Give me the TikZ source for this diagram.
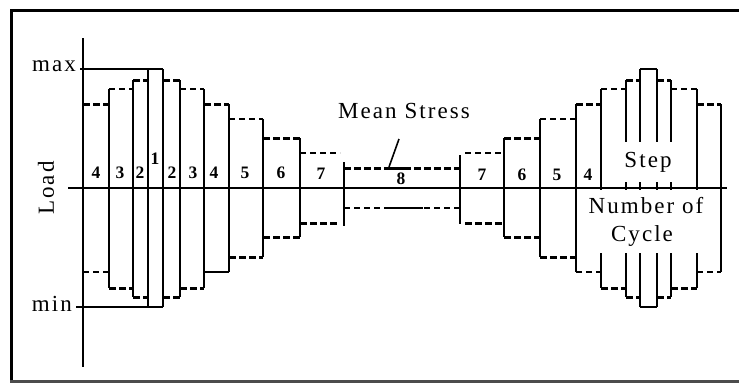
\documentclass[tikz,border=0pt]{standalone}
\usepackage{fontspec}
\setmainfont{Liberation Serif}
\begin{document}
\begin{tikzpicture}[x=1pt,y=-1pt,
  solidln/.style={line width=1.6pt},
  axisln/.style={line width=1.8pt},
  thickdash/.style={line width=3pt, dash pattern=on 7pt off 3pt},
  thindash/.style={line width=1.4pt, dash pattern=on 6pt off 4pt},
  lbl/.style={font=\fontsize{23}{25}\selectfont\addfontfeatures{LetterSpace=9}, inner sep=0pt},
  num/.style={font=\fontsize{17.5}{19}\selectfont\bfseries, inner sep=0pt}]
\useasboundingbox (0,0) rectangle (739,383);

% frame
\fill[black] (10,8.5) rectangle (739,11.5);
\fill[black] (10,8.5) rectangle (13,383);
\fill[black!70] (10,380) rectangle (739,383);

% axes
\draw[axisln] (83,38) -- (83,367);
\draw[axisln] (68,188) -- (727,188);

% max / min levels
\draw[solidln] (80,69) -- (163,69);
\draw[solidln] (76,307) -- (163,307);
\node[lbl, anchor=east] (max) at (76,66) {max};
\node[lbl, anchor=east] (min) at (72,304) {min};
\node[lbl, rotate=90] (load) at (46,188) {Load};

% upper and lower edges of each step
\foreach \xa/\xb/\t/\b/\ts/\bs in {
  83/109/104/272/thickdash/thindash,
  109/133/89/288/thindash/thickdash,
  133/148/80/297/thickdash/thickdash,
  163/180/80/297/thickdash/thickdash,
  180/204/89/288/thindash/thickdash,
  204/229/104/272/thickdash/solidln,
  229/263/119/257/thindash/thickdash,
  263/300/138/237/thickdash/thickdash,
  300/340/153/223/thindash/thickdash,
  344/460/168/208/thickdash/thindash,
  465/504/153/223/thindash/thickdash,
  504/540/138/237/thickdash/thickdash,
  540/576/119/257/thindash/thickdash,
  576/601/104/272/thickdash/thindash,
  601/626/89/288/thindash/thickdash,
  626/640/80/297/thickdash/thickdash,
  640/657/69/307/solidln/solidln,
  657/671/80/297/thickdash/thickdash,
  671/697/89/288/thindash/thickdash,
  697/721/104/272/thickdash/thindash}
{
  \draw[\ts] (\xa,\t) -- (\xb,\t);
  \draw[\bs] (\xa,\b) -- (\xb,\b);
}
\draw[line width=3pt] (388,168) -- (410,168);
\draw[solidln] (387,208) -- (423,208);

% step boundaries
\foreach \x/\t/\b in {109/89/288, 133/80/297, 148/69/307, 163/69/307,
  180/80/297, 204/89/288, 229/104/272, 263/119/257, 300/138/237,
  344/162/226, 460/155/224, 504/138/237, 540/119/257, 576/104/272, 721/104/272}
  \draw[solidln] (\x,\t) -- (\x,\b);
\foreach \x/\t/\b in {601/89/288, 697/89/288}
{
  \draw[solidln] (\x,\t) -- (\x,190);
  \draw[solidln] (\x,253) -- (\x,\b);
}
\foreach \x/\t/\b in {626/80/297, 640/69/307, 657/69/307, 671/80/297}
{
  \draw[solidln] (\x,\t) -- (\x,142);
  \draw[solidln] (\x,182) -- (\x,190);
  \draw[solidln] (\x,253) -- (\x,\b);
}

% step numbers
\node[num] (sa) at (96,173) {4};
\node[num] (sb) at (120,173) {3};
\node[num] (sc) at (140,173) {2};
\node[num] (sd) at (155,159) {1};
\node[num] (se) at (172,173) {2};
\node[num] (sf) at (193,173) {3};
\node[num] (sg) at (214,173) {4};
\node[num] (sh) at (245,173) {5};
\node[num] (si) at (281,173) {6};
\node[num] (sj) at (321,174) {7};
\node[num] (sk) at (401,179) {8};
\node[num] (sl) at (482,175) {7};
\node[num] (sm) at (522,175) {6};
\node[num] (sn) at (557,175) {5};
\node[num] (so) at (588,175) {4};

% annotations
\node[lbl] (mean) at (404,111) {Mean Stress};
\coordinate (meantip) at (389,167);
\draw[solidln] (399,139) -- (meantip);
\node[lbl] (stepname) at (648,162) {Step};
\node[lbl] (ncyc) at (646,206) {Number of};
\node[lbl] (cyc) at (642,236) {Cycle};
\end{tikzpicture}
\end{document}
